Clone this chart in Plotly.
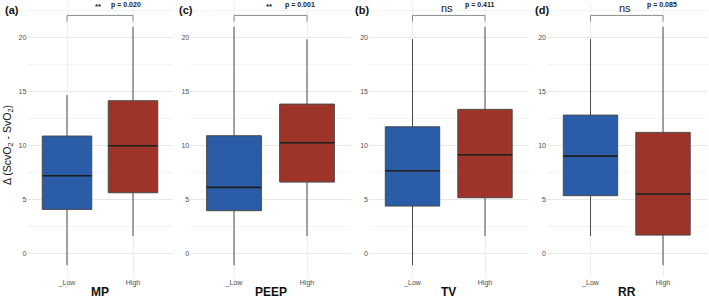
import plotly.graph_objects as go

# ---- data ----
panels = ["MP", "PEEP", "TV", "RR"]
panel_tags = ["(a)", "(c)", "(b)", "(d)"]
groups = ["_Low", "High"]
lower_w = [[-1.1, 1.6], [-1.1, 1.6], [-1.1, 1.6], [1.6, -1.1]]
q1_vals = [[4.07, 5.61], [3.95, 6.6], [4.38, 5.15], [5.34, 1.69]]
med_vals = [[7.19, 9.96], [6.11, 10.24], [7.65, 9.13], [9.0, 5.49]]
q3_vals = [[10.86, 14.13], [10.89, 13.82], [11.72, 13.33], [12.8, 11.2]]
upper_w = [[14.66, 20.98], [20.98, 19.81], [19.84, 20.98], [19.84, 20.98]]
sig_labels = ["**", "**", "ns", "ns"]
p_labels = ["p = 0.020", "p = 0.001", "p = 0.411", "p = 0.085"]
y_ticks = [0, 5, 10, 15, 20]

colors = ["#2a5ca8", "#9e3327"]
W, H = 709, 299
dom_px = [(27.4, 172.6), (190.2, 350.8), (369.0, 528.5), (547.0, 706.5)]
tag_px = [3, 177, 353, 533]
p_pos = [0.9, 0.9, 0.92, 0.99]
YR = [-2.19, 23.18]
BW = 0.75
FONT = "Liberation Sans, Arial, sans-serif"

fig = go.Figure()
for i, name in enumerate(panels):
    xa = "x" if i == 0 else f"x{i+1}"
    ya = "y" if i == 0 else f"y{i+1}"
    # bracket
    fig.add_trace(go.Scatter(x=[0, 0, 1, 1], y=[21.45, 22.03, 22.03, 21.45], mode="lines",
                             line=dict(color="#8c8c8c", width=1), xaxis=xa, yaxis=ya,
                             showlegend=False, hoverinfo="skip"))
    for g in range(2):
        fig.add_trace(go.Box(x=[g], q1=[q1_vals[i][g]], median=[med_vals[i][g]], q3=[q3_vals[i][g]],
                             lowerfence=[lower_w[i][g]], upperfence=[upper_w[i][g]],
                             width=BW, whiskerwidth=0, fillcolor=colors[g],
                             line=dict(color="#4a4a4a", width=1), xaxis=xa, yaxis=ya,
                             showlegend=False, boxpoints=False))
        fig.add_trace(go.Scatter(x=[g - BW / 2, g + BW / 2], y=[med_vals[i][g]] * 2, mode="lines",
                                 line=dict(color="#1e1e1e", width=1.6), xaxis=xa, yaxis=ya,
                                 showlegend=False, hoverinfo="skip"))
    d0, d1 = dom_px[i]
    axkw = dict(domain=[d0 / W, d1 / W], range=[-0.6, 1.6], tickmode="array",
                tickvals=[0, 1], ticktext=groups, showgrid=True, gridcolor="#eeeeee",
                gridwidth=1, zeroline=False, showline=False, ticks="",
                tickfont=dict(size=7, color="#4d4d4d"), automargin=False, anchor=ya)
    aykw = dict(domain=[0, 1], range=YR, tickmode="array", tickvals=y_ticks,
                showgrid=True, gridcolor="#e8e8e8", gridwidth=1, zeroline=False,
                showline=False, ticks="", tickfont=dict(size=7, color="#4d4d4d"),
                minor=dict(dtick=2.5, tick0=0, showgrid=True, gridcolor="#f4f4f4", gridwidth=0.6),
                automargin=False, anchor=xa)
    fig.update_layout(**{("xaxis" if i == 0 else f"xaxis{i+1}"): axkw,
                         ("yaxis" if i == 0 else f"yaxis{i+1}"): aykw})
    # significance & p text
    ns = sig_labels[i] == "ns"
    fig.add_annotation(x=0.48, y=22.75 if ns else 22.9, xref=xa, yref=ya,
                       text=sig_labels[i] if ns else "<b>" + sig_labels[i] + "</b>",
                       showarrow=False, font=dict(size=11 if ns else 8, color="#222", family=FONT),
                       xanchor="center", yanchor="middle")
    fig.add_annotation(x=p_pos[i], y=22.95, xref=xa, yref=ya, text="<b>" + p_labels[i] + "</b>",
                       showarrow=False, font=dict(size=7, color="#222", family=FONT),
                       xanchor="center", yanchor="middle")
    # panel tag
    fig.add_annotation(x=tag_px[i] / W, y=(277 - 10) / 274, xref="paper", yref="paper",
                       text="<b>" + panel_tags[i] + "</b>", showarrow=False,
                       font=dict(size=11, color="#111", family=FONT), xanchor="left", yanchor="middle")
    # x title
    fig.add_annotation(x=(d0 + d1) / 2 / W, y=-(292 - 277) / 274, xref="paper", yref="paper",
                       text="<b>" + name + "</b>", showarrow=False,
                       font=dict(size=12, color="#111", family=FONT), xanchor="center", yanchor="middle")

fig.add_annotation(x=8 / W, y=(277 - 145) / 274, xref="paper", yref="paper",
                   text="Δ (ScvO<sub>2</sub> - SvO<sub>2</sub>)", textangle=-90, showarrow=False,
                   font=dict(size=10.5, color="#111", family=FONT), xanchor="center", yanchor="middle")

fig.update_layout(width=W, height=H, margin=dict(l=0, r=0, t=3, b=22),
                  plot_bgcolor="white", paper_bgcolor="white", template="none",
                  font=dict(family=FONT), showlegend=False)
fig.write_html("out.html", config={"displayModeBar": False},
               post_script="document.body.style.margin='0';document.body.style.padding='0';")
